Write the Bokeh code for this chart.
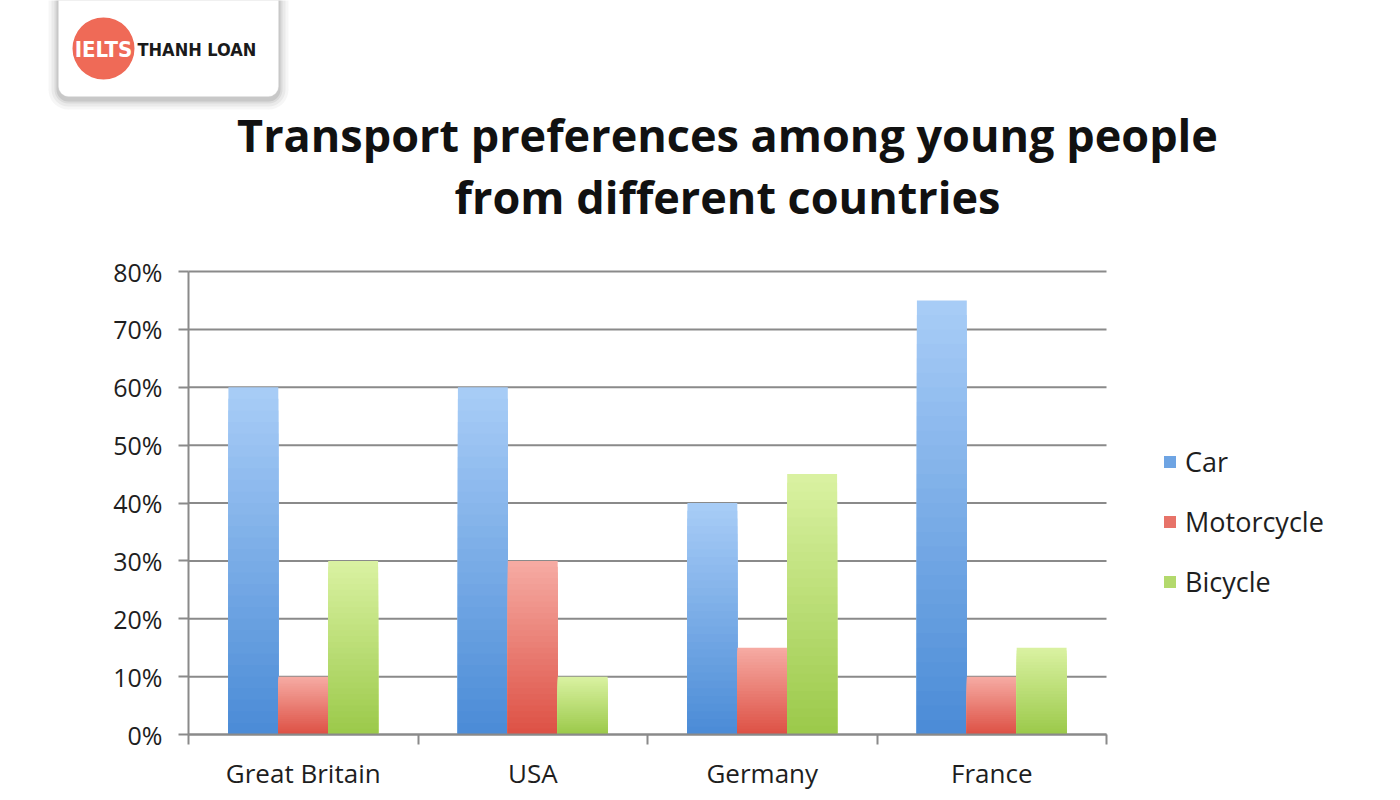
from bokeh.plotting import figure
from bokeh.models import (Range1d, FixedTicker, NumeralTickFormatter, BoxAnnotation, Label,
                          Legend, LegendItem)
from bokeh.embed import file_html
from bokeh.resources import INLINE

# ---- data ----
countries = ["Great Britain", "USA", "Germany", "France"]
series = ["Car", "Motorcycle", "Bicycle"]
car = [0.60, 0.60, 0.40, 0.75]
motorcycle = [0.10, 0.30, 0.15, 0.10]
bicycle = [0.30, 0.10, 0.45, 0.15]
y_ticks = [0, 0.1, 0.2, 0.3, 0.4, 0.5, 0.6, 0.7, 0.8]
title_lines = ["Transport preferences among young people", "from different countries"]
logo_parts = ["IELTS", "THANH LOAN"]

values = {"Car": car, "Motorcycle": motorcycle, "Bicycle": bicycle}
# (top color, bottom color)
colors = {
    "Car": ("#a9cdf7", "#4a8bd6"),
    "Motorcycle": ("#f6aca4", "#dd5044"),
    "Bicycle": ("#daf2a2", "#9bc94a"),
}

# ---- layout (pixels) ----
W, H = 1390, 790
AX_L, AX_R, AX_T, AX_B = 188, 1106, 271, 734   # plot area inside the canvas
YMAX = y_ticks[-1]
NCAT = len(countries)
sx = (AX_R - AX_L) / NCAT
sy = (AX_B - AX_T) / YMAX
x0, x1 = -AX_L / sx, (W - AX_L) / sx
y0, y1 = -(H - AX_B) / sy, YMAX + AX_T / sy


def dx(px):
    return x0 + px / sx


def dy(py):
    return y1 - py / sy


FONT = "Open Sans"
TXT = "#1e1e1e"
GRID = "#8a8a8a"

p = figure(width=W, height=H, output_backend="svg", toolbar_location=None,
           x_range=Range1d(x0, x1), y_range=Range1d(y0, y1),
           min_border=0, min_border_left=0, min_border_right=0,
           min_border_top=0, min_border_bottom=0)
p.outline_line_color = None
p.background_fill_color = "white"
p.border_fill_color = "white"
p.xgrid.visible = False
p.ygrid.visible = False

# y axis (fixed inside the canvas)
p.yaxis.fixed_location = 0
p.yaxis.bounds = (0, YMAX)
p.yaxis.ticker = FixedTicker(ticks=y_ticks)
p.yaxis.formatter = NumeralTickFormatter(format="0%")
p.yaxis.axis_line_color = GRID
p.yaxis.axis_line_width = 2
p.yaxis.major_tick_line_color = GRID
p.yaxis.major_tick_line_width = 2
p.yaxis.major_tick_in = 0
p.yaxis.major_tick_out = 10
p.yaxis.minor_tick_line_color = None
p.yaxis.major_label_standoff = 16
p.yaxis.major_label_text_font = FONT
p.yaxis.major_label_text_font_size = "25px"
p.yaxis.major_label_text_color = TXT

# x axis: labels at category centers, ticks at separators
centers = [i + 0.5 for i in range(NCAT)]
p.xaxis.fixed_location = 0
p.xaxis.bounds = (0, NCAT)
p.xaxis.ticker = FixedTicker(ticks=centers, minor_ticks=list(range(NCAT + 1)))
p.xaxis.major_label_overrides = {c: n for c, n in zip(centers, countries)}
p.xaxis.axis_line_color = GRID
p.xaxis.axis_line_width = 2
p.xaxis.major_tick_line_color = None
p.xaxis.major_tick_in = 0
p.xaxis.major_tick_out = 10
p.xaxis.minor_tick_line_color = GRID
p.xaxis.minor_tick_line_width = 2
p.xaxis.minor_tick_in = 0
p.xaxis.minor_tick_out = 10
p.xaxis.major_label_standoff = 10
p.xaxis.major_label_text_font = FONT
p.xaxis.major_label_text_font_size = "26px"
p.xaxis.major_label_text_color = TXT

# horizontal grid lines over the plot area
p.segment(x0=[0] * len(y_ticks), x1=[NCAT] * len(y_ticks), y0=y_ticks, y1=y_ticks,
          line_color=GRID, line_width=2)


def mix(c1, c2, t):
    a = [int(c1[i:i + 2], 16) for i in (1, 3, 5)]
    b = [int(c2[i:i + 2], 16) for i in (1, 3, 5)]
    return "#%02x%02x%02x" % tuple(int(round(a[k] + (b[k] - a[k]) * t)) for k in range(3))


bw = 50 / 230
offsets = {"Car": -bw, "Motorcycle": 0.0, "Bicycle": bw}
N = 30
legend_items = []
for s in series:
    top_c, bot_c = colors[s]
    xs = [c + offsets[s] for c in centers]
    # vertical gradient: nested bars from the full height down, each starting at 0
    rends = []
    for k in range(N):
        frac = (N - k) / N
        t = (N - k - 0.5) / N
        rends.append(p.vbar(x=xs, top=[v * frac for v in values[s]], bottom=0, width=bw,
                            fill_color=mix(bot_c, top_c, t), line_color=None))
    # legend swatch uses a mid-tone slice
    legend_items.append(LegendItem(label=s, renderers=[rends[int(N * 0.6)]]))

legend = Legend(items=legend_items, location=(1162, H - 600), orientation="vertical",
                label_text_font=FONT, label_text_font_size="27px", label_text_color=TXT,
                glyph_width=15, glyph_height=15, label_height=34, spacing=23,
                padding=0, margin=0, border_line_color=None, background_fill_alpha=0,
                label_standoff=8)
p.add_layout(legend)

# title
for i, line in enumerate(title_lines):
    p.add_layout(Label(x=dx(727), y=dy(134 + i * 62), text=line, text_align="center",
                       text_baseline="middle", text_font=FONT, text_font_style="bold",
                       text_font_size="45px", text_color="#111111"))

# logo card with soft shadow
for pad, alpha in [(10, 0.05), (7, 0.07), (4, 0.10), (2, 0.14)]:
    p.add_layout(BoxAnnotation(left=dx(58 - pad), right=dx(278 + pad), top=dy(-20),
                               bottom=dy(97 + pad + 2), fill_color="#555555", fill_alpha=alpha,
                               line_color=None, border_radius=10 + pad))
p.add_layout(BoxAnnotation(left=dx(58), right=dx(278), top=dy(-20), bottom=dy(96),
                           fill_color="white", fill_alpha=1, line_color="#e4e4e4",
                           line_width=1, border_radius=10))
p.add_layout(BoxAnnotation(left=dx(72), right=dx(134), top=dy(17), bottom=dy(79),
                           fill_color="#ef6a57", fill_alpha=1, line_color=None,
                           border_radius=31))
p.add_layout(Label(x=dx(103), y=dy(49), text=logo_parts[0], text_align="center",
                   text_baseline="middle", text_font="DejaVu Sans Condensed",
                   text_font_style="bold", text_font_size="22px", text_color="white"))
p.add_layout(Label(x=dx(137), y=dy(49), text=logo_parts[1], text_align="left",
                   text_baseline="middle", text_font="DejaVu Sans Condensed",
                   text_font_style="bold", text_font_size="18px", text_color="#1a1a1a"))

open("out.html", "w").write(file_html(p, INLINE))
